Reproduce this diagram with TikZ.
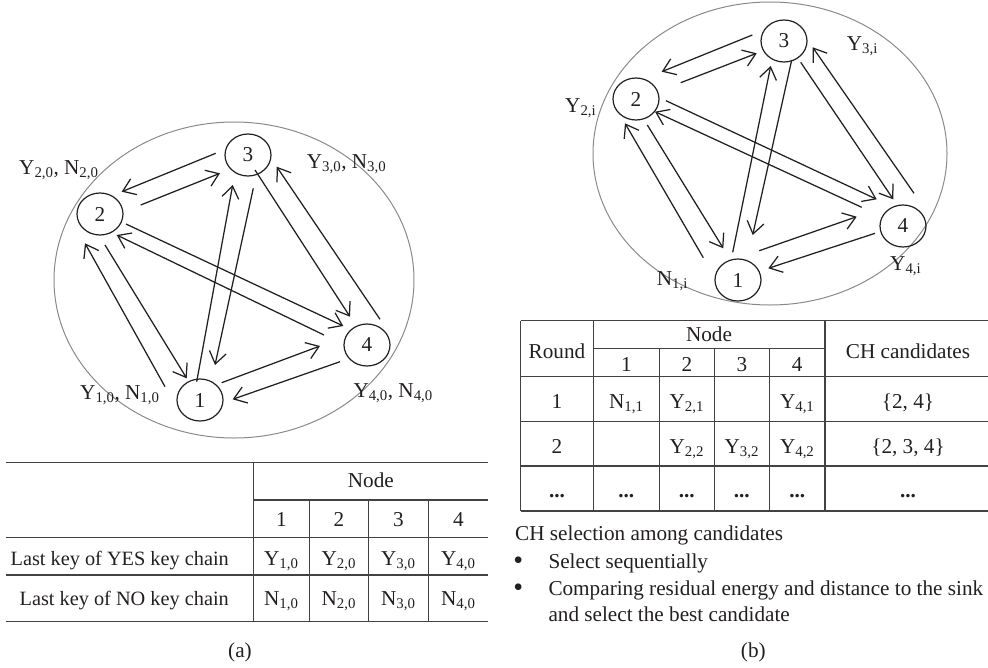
\documentclass[tikz,border=0pt]{standalone}
\usepackage{fontspec}
\setmainfont{Liberation Serif}
\usetikzlibrary{calc,shapes.geometric,arrows.meta}
\definecolor{ink}{HTML}{231F20}
\definecolor{rimc}{HTML}{8A8A8A}
\tikzset{
  netnode/.style={ellipse, draw=ink, line width=1.2pt, minimum width=46pt, minimum height=42pt, inner sep=0pt, text=ink},
  arr/.style={draw=ink, line width=1.25pt, -{Straight Barb[length=12pt,width=17pt]}},
  rimline/.style={draw=rimc, line width=1pt},
  gridline/.style={draw=ink!85, line width=1.2pt},
  txt/.style={inner sep=0pt, text=ink},
  lbl/.style={txt, anchor=base west},
  cell/.style={txt, anchor=base},
  rowlabel/.style={txt, anchor=base east, font=\fontsize{20.3}{24}\selectfont},
  bulletmark/.style={txt, anchor=base, text height=9pt, text depth=0pt, font=\fontsize{28}{28}\selectfont},
}
\newcommand{\ys}[2]{#1\textsubscript{#2}}
\begin{document}
\begin{tikzpicture}[x=1pt,y=-1pt,font=\fontsize{21.2}{25}\selectfont]
\useasboundingbox (0,0) rectangle (988,667);

% ---------------- panel (a) ----------------
\draw[rimline] (234,280) ellipse [x radius=180pt, y radius=158pt];
\node[netnode] (a1) at (200,400) {1};
\node[netnode] (a2) at (100,214) {2};
\node[netnode] (a3) at (248,155) {3};
\node[netnode] (a4) at (367,345) {4};

\draw[arr] ($(a3)+(-32.3,-1.7)$) -- ($(a2)+(21.7,-22.3)$);
\draw[arr] ($(a2)+(40.7,-9)$) -- ($(a3)+(-28,18.3)$);
\draw[arr] ($(a1)+(-3.3,-18.3)$) -- ($(a3)+(-15.3,30)$);
\draw[arr] ($(a3)+(5.3,33.3)$) -- ($(a1)+(15,-35)$);
\draw[arr] ($(a3)+(7,15)$) -- ($(a4)+(-17,-28.3)$);
\draw[arr] ($(a4)+(13,-25.7)$) -- ($(a3)+(28.7,11.7)$);
\draw[arr] ($(a2)+(26,10)$) -- ($(a4)+(-23.7,-19)$);
\draw[arr] ($(a4)+(-43,-10)$) -- ($(a2)+(16.7,21)$);
\draw[arr] ($(a1)+(-35,-13.3)$) -- ($(a2)+(-15,29.3)$);
\draw[arr] ($(a2)+(5,31)$) -- ($(a1)+(-13.3,-21.7)$);
\draw[arr] ($(a1)+(21.7,-17.3)$) -- ($(a4)+(-47,1)$);
\draw[arr] ($(a4)+(-27,16.7)$) -- ($(a1)+(32.7,-0.7)$);

\node[lbl] (la2) at (19,174) {\ys{Y}{2,0}, \ys{N}{2,0}};
\node[lbl] (la3) at (306.7,168.3) {\ys{Y}{3,0}, \ys{N}{3,0}};
\node[lbl] (la1) at (80,399.3) {\ys{Y}{1,0}, \ys{N}{1,0}};
\node[lbl] (la4) at (353.3,397.3) {\ys{Y}{4,0}, \ys{N}{4,0}};

% table (a)
\draw[gridline] (6,462.3) -- (488.3,462.3);
\draw[gridline] (253.3,500) -- (488.3,500);
\draw[gridline] (6,537.3) -- (488.3,537.3);
\draw[gridline] (6,575) -- (488.3,575);
\draw[gridline] (6,621.7) -- (488.3,621.7);
\draw[gridline] (253.3,462.3) -- (253.3,621.7);
\draw[gridline] (309.3,500) -- (309.3,621.7);
\draw[gridline] (368.3,500) -- (368.3,621.7);
\draw[gridline] (428.3,500) -- (428.3,621.7);

\node[cell] (ta-node) at (370.8,487.3) {Node};
\node[cell] (ta-h1) at (281.3,526.7) {1};
\node[cell] (ta-h2) at (338.8,526.7) {2};
\node[cell] (ta-h3) at (398.3,526.7) {3};
\node[cell] (ta-h4) at (458.3,526.7) {4};
\node[rowlabel] (ta-yes) at (229,565) {Last key of YES key chain};
\node[rowlabel] (ta-no) at (229,605.5) {Last key of NO key chain};
\node[cell] (ta-y1) at (281.3,565) {\ys{Y}{1,0}};
\node[cell] (ta-y2) at (338.8,565) {\ys{Y}{2,0}};
\node[cell] (ta-y3) at (398.3,565) {\ys{Y}{3,0}};
\node[cell] (ta-y4) at (458.3,565) {\ys{Y}{4,0}};
\node[cell] (ta-n1) at (281.3,605.5) {\ys{N}{1,0}};
\node[cell] (ta-n2) at (338.8,605.5) {\ys{N}{2,0}};
\node[cell] (ta-n3) at (398.3,605.5) {\ys{N}{3,0}};
\node[cell] (ta-n4) at (458.3,605.5) {\ys{N}{4,0}};
\node[cell] (cap-a) at (240,657) {(a)};

% ---------------- panel (b) ----------------
\draw[rimline] (770,153.5) ellipse [x radius=177pt, y radius=151.5pt];
\node[netnode] (b1) at (738,280) {1};
\node[netnode] (b2) at (636,99) {2};
\node[netnode] (b3) at (784,41) {3};
\node[netnode] (b4) at (903,226) {4};

\draw[arr] ($(b3)+(-31.7,-6)$) -- ($(b2)+(25.7,-27.3)$);
\draw[arr] ($(b2)+(44.7,-16.3)$) -- ($(b3)+(-27.3,12.3)$);
\draw[arr] ($(b1)+(-5.3,-27.7)$) -- ($(b3)+(-13.3,25)$);
\draw[arr] ($(b3)+(7.7,19)$) -- ($(b1)+(14.7,-45)$);
\draw[arr] ($(b3)+(16.7,21.3)$) -- ($(b4)+(-9.7,-26.7)$);
\draw[arr] ($(b4)+(11,-32.7)$) -- ($(b3)+(28.7,6.3)$);
\draw[arr] ($(b2)+(30,1.7)$) -- ($(b4)+(-26.3,-26.7)$);
\draw[arr] ($(b4)+(-41.3,-18.7)$) -- ($(b2)+(19,12.7)$);
\draw[arr] ($(b1)+(-34.7,-22.3)$) -- ($(b2)+(-11,24.3)$);
\draw[arr] ($(b2)+(11.3,26)$) -- ($(b1)+(-14.7,-31.7)$);
\draw[arr] ($(b1)+(21.3,-29.3)$) -- ($(b4)+(-46.3,-9.3)$);
\draw[arr] ($(b4)+(-28,7.3)$) -- ($(b1)+(30.3,-11.7)$);

\node[lbl] (lb3) at (846.7,50) {\ys{Y}{3,i}};
\node[lbl] (lb2) at (565,112.7) {\ys{Y}{2,i}};
\node[lbl] (lb1) at (656.7,285) {\ys{N}{1,i}};
\node[lbl] (lb4) at (890,270) {\ys{Y}{4,i}};

% table (b)
\draw[gridline] (520.7,320.7) -- (988,320.7);
\draw[gridline] (593.3,348.3) -- (825,348.3);
\draw[gridline] (520.7,376.7) -- (988,376.7);
\draw[gridline] (520.7,421.7) -- (988,421.7);
\draw[gridline] (520.7,466) -- (988,466);
\draw[gridline] (520.7,511) -- (988,511);
\draw[gridline] (520.7,320.7) -- (520.7,511);
\draw[gridline] (593.3,320.7) -- (593.3,511);
\draw[gridline] (825,320.7) -- (825,511);
\draw[gridline] (659.3,348.3) -- (659.3,511);
\draw[gridline] (714.3,348.3) -- (714.3,511);
\draw[gridline] (769.3,348.3) -- (769.3,511);

\node[cell] (tb-round) at (557,358.3) {Round};
\node[cell] (tb-node) at (709,341.7) {Node};
\node[cell] (tb-ch) at (908,358.3) {CH candidates};
\node[cell] (tb-h1) at (626.3,371.7) {1};
\node[cell] (tb-h2) at (686.8,371.7) {2};
\node[cell] (tb-h3) at (741.8,371.7) {3};
\node[cell] (tb-h4) at (797.2,371.7) {4};

\node[cell] (tb-r1) at (557,408.3) {1};
\node[cell] (tb-r1c1) at (626.3,408.3) {\ys{N}{1,1}};
\node[cell] (tb-r1c2) at (686.8,408.3) {\ys{Y}{2,1}};
\node[cell] (tb-r1c4) at (797.2,408.3) {\ys{Y}{4,1}};
\node[cell] (tb-r1ch) at (908,408.3) {\{2, 4\}};

\node[cell] (tb-r2) at (557,453.3) {2};
\node[cell] (tb-r2c2) at (686.8,453.3) {\ys{Y}{2,2}};
\node[cell] (tb-r2c3) at (741.8,453.3) {\ys{Y}{3,2}};
\node[cell] (tb-r2c4) at (797.2,453.3) {\ys{Y}{4,2}};
\node[cell] (tb-r2ch) at (908,453.3) {\{2, 3, 4\}};

\node[cell] (tb-r3) at (557,497) {\textbf{...}};
\node[cell] (tb-r3c1) at (626.3,497) {\textbf{...}};
\node[cell] (tb-r3c2) at (686.8,497) {\textbf{...}};
\node[cell] (tb-r3c3) at (741.8,497) {\textbf{...}};
\node[cell] (tb-r3c4) at (797.2,497) {\textbf{...}};
\node[cell] (tb-r3ch) at (908,497) {\textbf{...}};

\node[lbl] (sel) at (515,540) {CH selection among candidates};
\node[bulletmark] (bul1) at (518.3,569.5) {•};
\node[lbl] (sel1) at (548.3,568.3) {Select sequentially};
\node[bulletmark] (bul2) at (518.3,596.2) {•};
\node[lbl] (sel2) at (548.3,595) {Comparing residual energy and distance to the sink};
\node[lbl] (sel3) at (548.3,621.7) {and select the best candidate};
\node[cell] (cap-b) at (753.3,657) {(b)};
\end{tikzpicture}
\end{document}
